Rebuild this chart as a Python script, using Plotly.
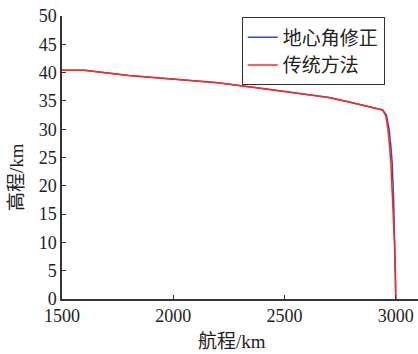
import plotly.graph_objects as go

# Data
red_x = [1500, 1600, 1800, 2000, 2200, 2400, 2500, 2600, 2700, 2800, 2880, 2941, 2955, 2965, 2972, 2978, 2985, 2990, 2994, 2997, 3000]
red_y = [40.4, 40.4, 39.5, 38.9, 38.2, 37.2, 36.7, 36.2, 35.6, 34.7, 34.0, 33.4, 32.4, 30.0, 27.0, 24.0, 18.0, 14.0, 10.0, 5.0, 0.0]
blue_x = [1500, 1600, 1800, 2000, 2200, 2400, 2500, 2600, 2700, 2800, 2880, 2941, 2958, 2970, 2978, 2984, 2990, 2994, 2997, 2999, 3000]
blue_y = [40.4, 40.4, 39.5, 38.9, 38.2, 37.2, 36.7, 36.2, 35.6, 34.7, 34.0, 33.4, 32.5, 30.0, 27.0, 24.0, 18.0, 13.0, 8.0, 4.0, 0.0]
x_ticks = [1500, 2000, 2500, 3000]
y_ticks = [0, 5, 10, 15, 20, 25, 30, 35, 40, 45, 50]
x_title = "航程/km"
y_title = "高程/km"

fig = go.Figure()
fig.add_trace(go.Scatter(x=blue_x, y=blue_y, mode="lines", name="地心角修正",
                         line=dict(color="#2b4fc7", width=1.5)))
fig.add_trace(go.Scatter(x=red_x, y=red_y, mode="lines", name="传统方法",
                         line=dict(color="#ff2a1a", width=1.5)))

serif = "Liberation Serif, Times New Roman, serif"
mixed = "Liberation Serif, Noto Sans CJK SC"
cjk = "Noto Sans CJK SC"
tickfont = dict(family=serif, size=18, color="#222")
fig.update_layout(
    width=418, height=354,
    margin=dict(l=62, r=0, t=16, b=55, autoexpand=False),
    paper_bgcolor="white", plot_bgcolor="white",
    font=dict(family=serif, color="#222"),
    showlegend=True,
    legend=dict(x=0.505, y=0.995, xanchor="left", yanchor="top",
                bordercolor="#333", borderwidth=1, bgcolor="white",
                font=dict(family=cjk, size=19, color="#222"),
                tracegroupgap=0, itemwidth=30),
    xaxis=dict(range=[1500, 3100], tickvals=x_ticks, ticktext=[str(v) for v in x_ticks],
               showgrid=False, zeroline=False, showline=True, linecolor="#333", linewidth=1.5,
               ticks="inside", ticklen=4, tickcolor="#333", tickfont=tickfont,
               automargin=False, ticklabeloverflow="allow"),
    yaxis=dict(range=[0, 50], tickvals=y_ticks, ticktext=[str(v) for v in y_ticks],
               showgrid=False, zeroline=False, showline=True, linecolor="#333", linewidth=1.5,
               ticks="inside", ticklen=4, tickcolor="#333", tickfont=tickfont,
               automargin=False, ticklabeloverflow="allow"),
    annotations=[
        dict(text=x_title, xref="paper", yref="paper", x=0.4775, y=0, yshift=-42,
             xanchor="center", yanchor="middle", showarrow=False,
             font=dict(family=mixed, size=19, color="#222")),
        dict(text=y_title, xref="paper", yref="paper", x=0, y=0.431, xshift=-46,
             xanchor="center", yanchor="middle", showarrow=False, textangle=-90,
             font=dict(family=mixed, size=19, color="#222")),
    ],
)
fig.write_html("out.html", config={"displayModeBar": False},
               post_script="document.body.style.margin='0';document.body.style.overflow='hidden';")
